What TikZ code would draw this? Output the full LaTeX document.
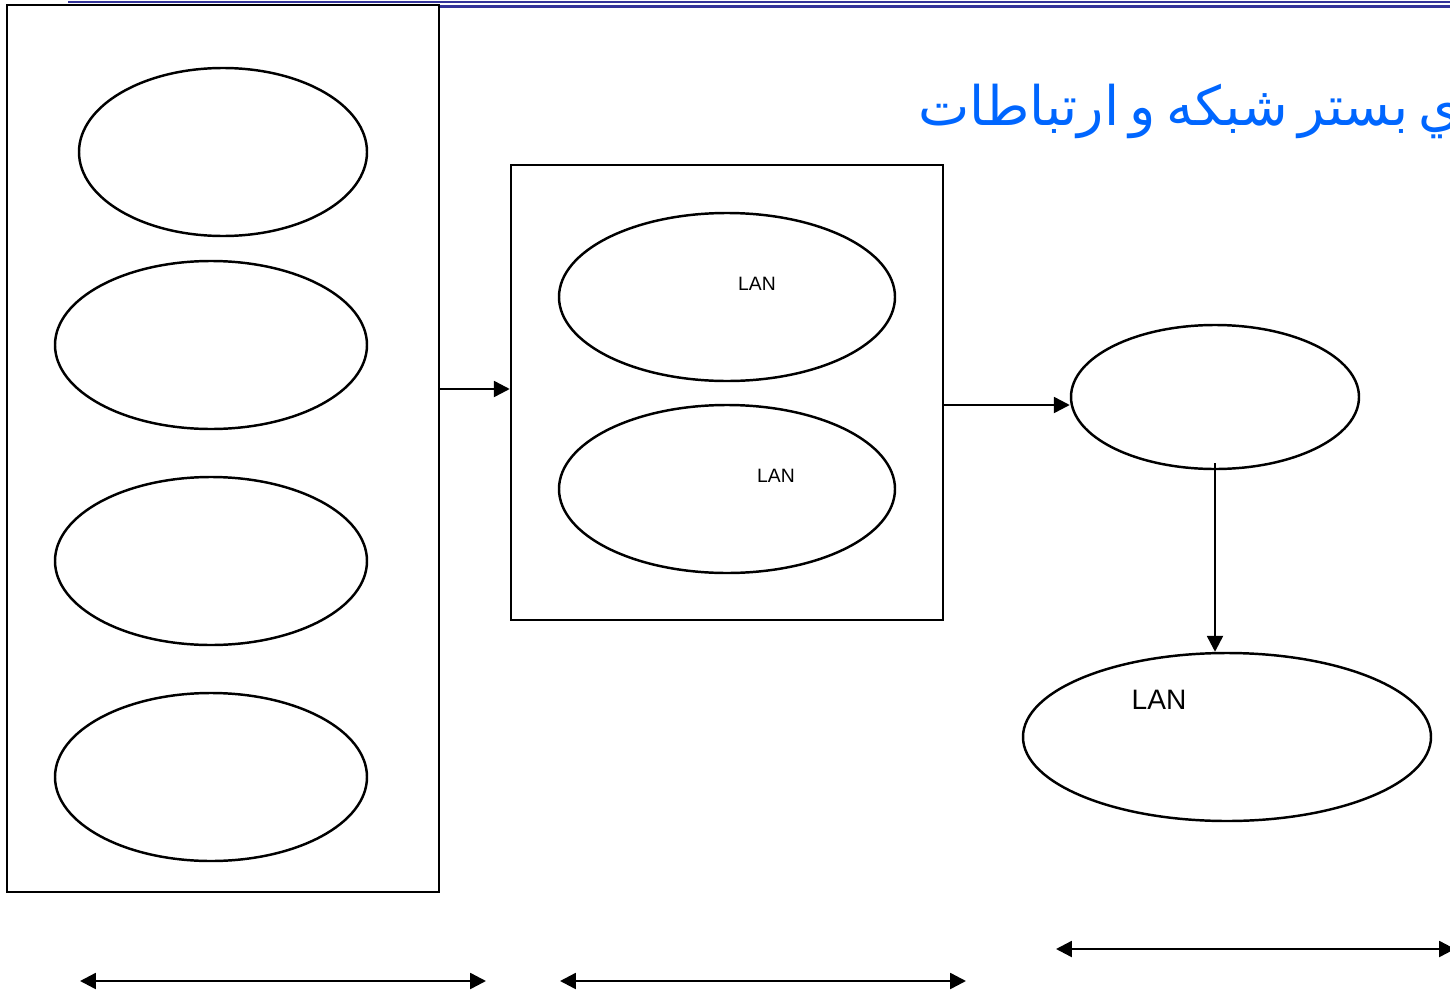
\documentclass[tikz,border=0pt]{standalone}
\usepackage{fontspec}
\setmainfont{Liberation Sans}
\newfontfamily\arabicfont[Script=Arabic,WordSpace=0.6]{DejaVu Sans}
\TeXXeTstate=1
\usepackage{tikz}
\usetikzlibrary{arrows.meta,shapes.geometric,calc}
\definecolor{titleblue}{HTML}{0066FF}
\definecolor{barblue}{HTML}{333399}

\begin{document}
\begin{tikzpicture}[
  box/.style={draw,line width=1.4pt,minimum width=8.64cm,inner sep=0pt},
  oval/.style={draw,ellipse,line width=1.4pt,inner sep=0pt,minimum height=3.36cm},
  arr/.style={line width=1.4pt,-{Triangle[length=9pt,width=9pt]}},
  darr/.style={line width=1.4pt,{Triangle[length=9pt,width=9pt]}-{Triangle[length=9pt,width=9pt]}}]
\useasboundingbox (0,0) rectangle (29,-19.86);
% top bars
\draw [barblue,line width=1.2pt] (1.36,-0.04) -- (29.2,-0.04);
\draw [barblue,line width=1.8pt] (8.8,-0.13) -- (29.2,-0.13);
% title
\node[anchor=base west,inner sep=0pt,text=titleblue,font=\arabicfont\fontsize{31}{36}\selectfont] (title) at (18.36,-2.5) {\beginR ي بستر شبکه و ارتباطات\endR};
% boxes
\node[box,minimum height=17.74cm] (leftbox) at (4.46,-8.97) {};
\node[box,minimum height=9.1cm] (midbox) at (14.54,-7.85) {};
% ovals
\node[oval,minimum width=5.76cm] (e1) at (4.46,-3.04) {};
\foreach \n/\y in {e2/-6.9,e3/-11.22,e4/-15.54}
	\node[oval,minimum width=6.24cm] (\n) at (4.22,\y) {};
\node[oval,minimum width=6.72cm] (m1) at (14.54,-5.94) {};
\node[oval,minimum width=6.72cm] (m2) at (14.54,-9.78) {};
\node[oval,minimum width=5.76cm,minimum height=2.88cm] (wan) at (24.3,-7.94) {};
\node[oval,minimum width=8.16cm] (lan) at (24.54,-14.74) {};
% labels
\node[font=\fontsize{11}{13}\selectfont] (m1lan) at (15.14,-5.68) {LAN};
\node[font=\fontsize{11}{13}\selectfont] (m2lan) at (15.52,-9.52) {LAN};
\node[font=\fontsize{16}{19}\selectfont] (lanlan) at (23.18,-14.0) {LAN};
% connectors
\draw [arr] ([yshift=0.07cm]leftbox.east |- midbox.west) -- ([yshift=0.07cm]midbox.west);
\draw [arr] ([yshift=-0.16cm]wan.west -| midbox.east) -- ([yshift=-0.16cm]wan.west);
\draw [arr] ([yshift=0.14cm]wan.south) -- (wan.south |- lan.north);
% spans
\coordinate (s1a) at (1.6,-19.62);
\coordinate (s1b) at (9.72,-19.62);
\coordinate (s2a) at (11.2,-19.62);
\coordinate (s2b) at (19.32,-19.62);
\coordinate (s3a) at (21.12,-18.98);
\coordinate (s3b) at (29.1,-18.98);
\foreach \a/\b in {s1a/s1b,s2a/s2b,s3a/s3b}
	\draw [darr] (\a) -- (\b);
\end{tikzpicture}
\end{document}
